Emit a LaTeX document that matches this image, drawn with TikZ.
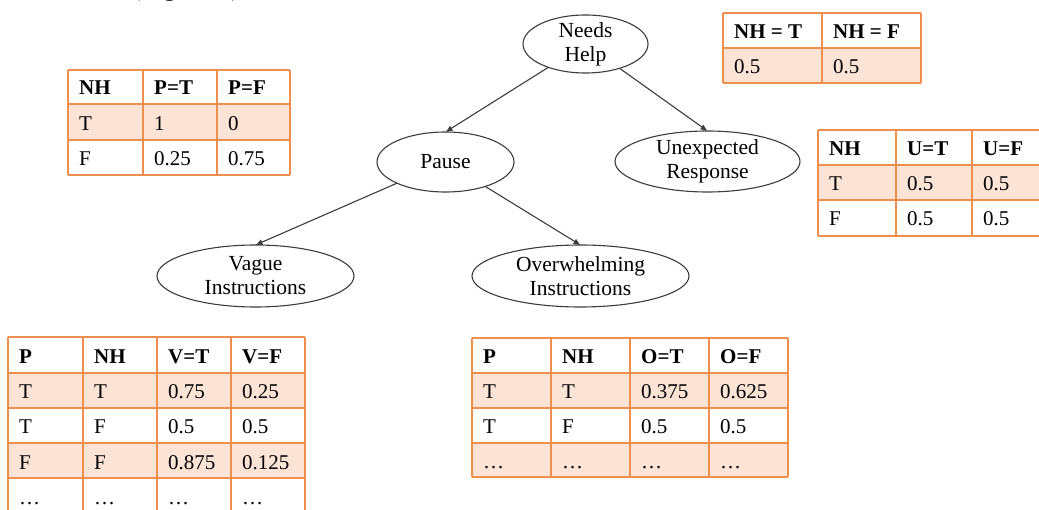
\documentclass[tikz,border=0pt]{standalone}
\usepackage{fontspec}
\setmainfont{Liberation Serif}
\usetikzlibrary{shapes.geometric,arrows.meta}

\definecolor{tborder}{RGB}{240,142,78}
\definecolor{tfill}{RGB}{251,228,213}
\definecolor{edgegray}{RGB}{60,60,60}

\newcommand\cellfont{\fontsize{21}{24}\selectfont}
\newcommand\varfont{\fontsize{21.5}{24}\selectfont}

\tikzset{
  x=1pt, y=-1pt,
  varnode/.style={ellipse, draw=edgegray, line width=1.1pt, font=\varfont,
    align=center, inner xsep=0pt, inner ysep=-8pt, outer sep=0pt},
  arr/.style={draw=edgegray, line width=1.1pt, -{Latex[length=7pt,width=6pt]}},
  grid/.style={draw=tborder, line width=1.4pt},
  headrule/.style={draw=tborder, line width=2.6pt},
  cell/.style={anchor=base west, inner sep=0pt, font=\cellfont},
  hcell/.style={cell, font=\cellfont\bfseries},
}

\begin{document}
\begin{tikzpicture}
\useasboundingbox (0,0) rectangle (1039,510);

% caption line above the figure, cut by the top edge
\node[anchor=base, inner sep=0pt, font=\fontsize{27}{30}\selectfont] (figref) at (186,-4.5) {(Figure 1)};

% ---------- Bayesian network ----------
\node[varnode, minimum width=125pt, minimum height=58pt] (nh) at (585.5,44) {Needs\\Help};
\node[varnode, minimum width=137pt, minimum height=60pt] (pause) at (445.5,162) {Pause};
\node[varnode, minimum width=185pt, minimum height=61pt] (unexp) at (707.5,161.5) {Unexpected\\Response};
\node[varnode, minimum width=197pt, minimum height=62pt] (vague) at (255.5,276) {Vague\\Instructions};
\node[varnode, minimum width=217pt, minimum height=62pt] (over) at (580.5,276) {Overwhelming\\Instructions};

\draw[arr] (nh) -- (pause.north);
\draw[arr] (nh) -- (unexp.north);
\draw[arr] (pause) -- (vague.north);
\draw[arr] (pause) -- (over.north);

% ---------- prior of Needs Help ----------
\fill[tfill] (723,48) rectangle (921,83);
\foreach \x in {723,822,921} \draw[grid] (\x,13) -- (\x,83);
\foreach \y in {13,83} \draw[grid] (723,\y) -- (921,\y);
\draw[headrule] (723,48) -- (921,48);
\foreach \t/\x [count=\i] in {NH = T/734, NH = F/833}
  \node[hcell] (nht-0-\i) at (\x,39) {\t};
\foreach \t/\x [count=\i] in {0.5/734, 0.5/833}
  \node[cell] (nht-1-\i) at (\x,74) {\t};

% ---------- CPT of Pause ----------
\fill[tfill] (68,104) rectangle (290,140);
\foreach \x in {68,143,217,290} \draw[grid] (\x,70) -- (\x,175);
\foreach \y in {70,140,175} \draw[grid] (68,\y) -- (290,\y);
\draw[headrule] (68,104) -- (290,104);
\foreach \t/\x [count=\i] in {NH/79, P=T/154, P=F/228}
  \node[hcell] (pt-0-\i) at (\x,95) {\t};
\foreach \t/\x [count=\i] in {T/79, 1/154, 0/228}
  \node[cell] (pt-1-\i) at (\x,131) {\t};
\foreach \t/\x [count=\i] in {F/79, 0.25/154, 0.75/228}
  \node[cell] (pt-2-\i) at (\x,166) {\t};

% ---------- CPT of Unexpected Response ----------
\fill[tfill] (818,165) rectangle (1050,200);
\foreach \x in {818,896,972,1050} \draw[grid] (\x,130) -- (\x,236);
\foreach \y in {130,200,236} \draw[grid] (818,\y) -- (1050,\y);
\draw[headrule] (818,165) -- (1050,165);
\foreach \t/\x [count=\i] in {NH/829, U=T/907, U=F/983}
  \node[hcell] (ut-0-\i) at (\x,156) {\t};
\foreach \t/\x [count=\i] in {T/829, 0.5/907, 0.5/983}
  \node[cell] (ut-1-\i) at (\x,191) {\t};
\foreach \t/\x [count=\i] in {F/829, 0.5/907, 0.5/983}
  \node[cell] (ut-2-\i) at (\x,226) {\t};

% ---------- CPT of Vague Instructions ----------
\fill[tfill] (8,373) rectangle (305,408);
\fill[tfill] (8,443) rectangle (305,478);
\foreach \x in {8,83,157,231,305} \draw[grid] (\x,337) -- (\x,520);
\foreach \y in {337,408,443,478} \draw[grid] (8,\y) -- (305,\y);
\draw[headrule] (8,373) -- (305,373);
\foreach \t/\x [count=\i] in {P/19, NH/94, V=T/168, V=F/242}
  \node[hcell] (vt-0-\i) at (\x,364) {\t};
\foreach \t/\x [count=\i] in {T/19, T/94, 0.75/168, 0.25/242}
  \node[cell] (vt-1-\i) at (\x,399) {\t};
\foreach \t/\x [count=\i] in {T/19, F/94, 0.5/168, 0.5/242}
  \node[cell] (vt-2-\i) at (\x,434) {\t};
\foreach \t/\x [count=\i] in {F/19, F/94, 0.875/168, 0.125/242}
  \node[cell] (vt-3-\i) at (\x,469) {\t};
\foreach \x [count=\i] in {19,94,168,242}
  \node[cell] (vt-4-\i) at (\x,504) {\ldots};

% ---------- CPT of Overwhelming Instructions ----------
\fill[tfill] (472,373) rectangle (788,408);
\fill[tfill] (472,443) rectangle (788,477);
\foreach \x in {472,551,630,709,788} \draw[grid] (\x,338) -- (\x,477);
\foreach \y in {338,408,443,477} \draw[grid] (472,\y) -- (788,\y);
\draw[headrule] (472,373) -- (788,373);
\foreach \t/\x [count=\i] in {P/483, NH/562, O=T/641, O=F/720}
  \node[hcell] (ot-0-\i) at (\x,364) {\t};
\foreach \t/\x [count=\i] in {T/483, T/562, 0.375/641, 0.625/720}
  \node[cell] (ot-1-\i) at (\x,399) {\t};
\foreach \t/\x [count=\i] in {T/483, F/562, 0.5/641, 0.5/720}
  \node[cell] (ot-2-\i) at (\x,434) {\t};
\foreach \x [count=\i] in {483,562,641,720}
  \node[cell] (ot-3-\i) at (\x,468) {\ldots};

\end{tikzpicture}
\end{document}
